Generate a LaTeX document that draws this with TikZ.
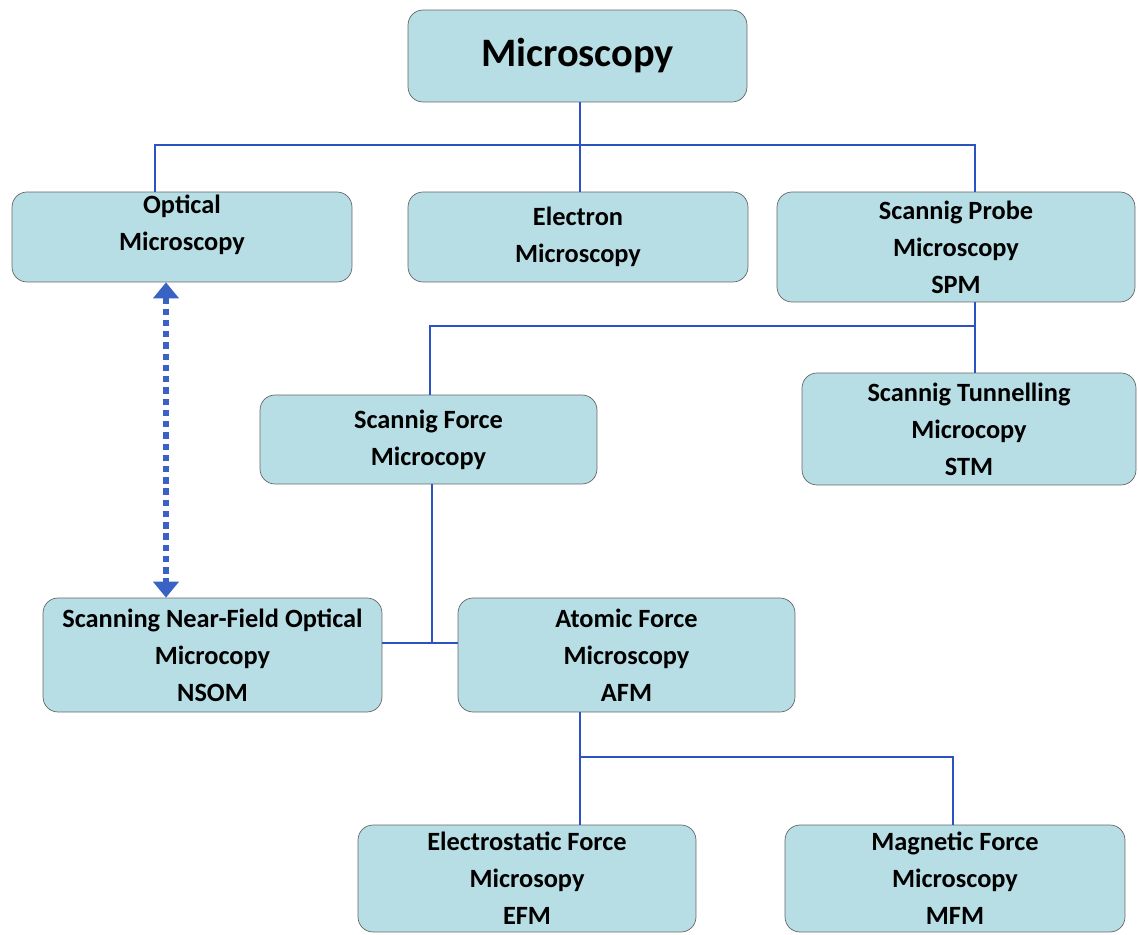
\documentclass[tikz,border=0pt]{standalone}
\usepackage{fontspec}
\setmainfont{Carlito}
\usetikzlibrary{arrows.meta,positioning,calc}

\definecolor{boxfill}{RGB}{183,222,229}
\definecolor{linkblue}{RGB}{45,82,196}
\definecolor{dotblue}{RGB}{58,98,196}

\begin{document}
\begin{tikzpicture}[x=0.02cm, y=-0.02cm,
			box/.style={rectangle, draw=black!60, thin, fill=boxfill,
				rounded corners=0.3cm, align=center, inner sep=0pt,
				font=\bfseries\fontsize{15}{21}\selectfont},
			link/.style={draw=linkblue, line width=1.1pt},
			dotarrow/.style={draw=dotblue, line width=3.6pt,
				dash pattern=on 3.6pt off 2.8pt,
				{Triangle[width=0.5cm,length=0.32cm]}-{Triangle[width=0.5cm,length=0.32cm]}}]
			
			\useasboundingbox (0,0) rectangle (1138,935);
			
			% Top level
			\node[box, minimum width=6.78cm, minimum height=1.84cm,
				font=\bfseries\fontsize{23}{27}\selectfont] (micro) at (577.5,56) {Microscopy};
			
			% Second level
			\node[box, minimum width=6.8cm, minimum height=1.8cm, text depth=16pt] (optical) at (182,237) {Optical\\Microscopy};
			\node[box, minimum width=6.8cm, minimum height=1.8cm] (electron) at (578,237) {Electron\\Microscopy};
			\node[box, minimum width=7.16cm, minimum height=2.2cm] (spm) at (956,247) {Scannig Probe\\Microscopy\\SPM};
			
			% SPM branch
			\node[box, minimum width=6.68cm, minimum height=2.24cm] (stm) at (969,429) {Scannig Tunnelling\\Microcopy\\STM};
			\node[box, minimum width=6.74cm, minimum height=1.78cm] (sfm) at (428.5,439.5) {Scannig Force\\Microcopy};
			
			% Force branch
			\node[box, minimum width=6.78cm, minimum height=2.28cm] (nsom) at (212.5,655) {Scanning Near-Field Optical\\Microcopy\\NSOM};
			\node[box, minimum width=6.74cm, minimum height=2.28cm] (afm) at (626.5,655) {Atomic Force\\Microscopy\\AFM};
			
			% AFM branch
			\node[box, minimum width=6.76cm, minimum height=2.14cm] (efm) at (527,878.5) {Electrostatic Force\\Microsopy\\EFM};
			\node[box, minimum width=6.8cm, minimum height=2.14cm] (mfm) at (955,878.5) {Magnetic Force\\Microscopy\\MFM};
			
			% Junctions
			\coordinate (j1) at (155,145);
			\coordinate (j2) at (975,145);
			\coordinate (j3) at (430,326);
			\coordinate (j4) at (975,326);
			\coordinate (j5) at (432,643);
			\coordinate (j6) at (580,757);
			\coordinate (j7) at (953,757);
			\coordinate (ja) at (166,450);
			
			% Connectors
			\draw[link] (micro.south -| j6) -- (electron.north -| j6);
			\draw[link] (optical.north -| j1) -- (j1) -- (j2) -- (spm.north -| j2);
			\draw[link] (spm.south -| j4) -- (stm.north -| j4);
			\draw[link] (sfm.north -| j3) -- (j3) -- (j4);
			\draw[link] (sfm.south -| j5) -- (j5);
			\draw[link] (nsom.east |- j5) -- (afm.west |- j5);
			\draw[link] (afm.south -| j6) -- (efm.north -| j6);
			\draw[link] (j6) -- (j7) -- (mfm.north -| j7);
			
			% Optical <-> NSOM
			\draw[dotarrow] (optical.south -| ja) -- (nsom.north -| ja);
		\end{tikzpicture}
\end{document}
